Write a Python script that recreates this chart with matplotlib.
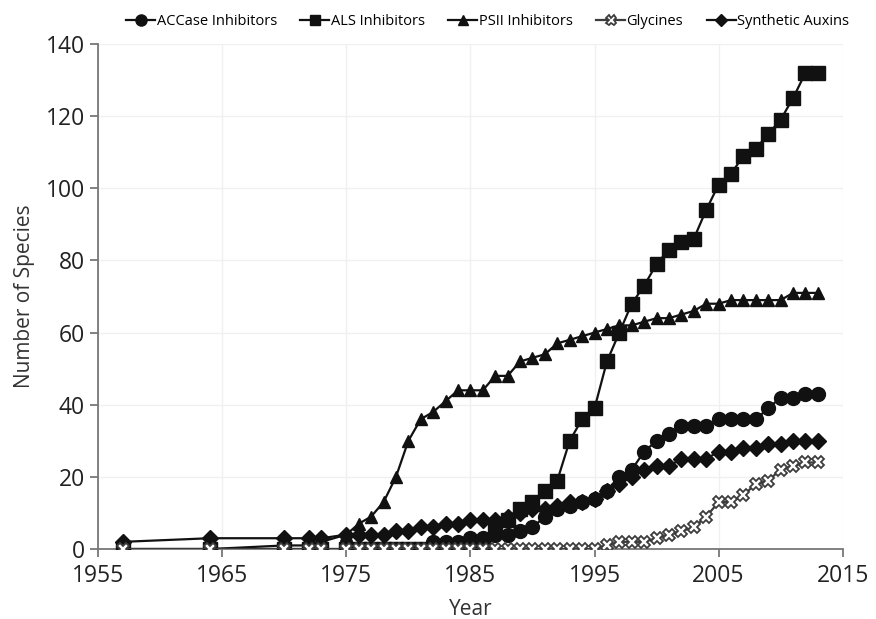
import numpy as np
import matplotlib.pyplot as plt

plt.rcParams['font.family'] = ['Open Sans', 'DejaVu Sans']

# years with reported cases
years = [1957, 1964, 1970, 1972, 1973] + list(range(1975, 2014))

accase = [0, 0, 0, 0, 0,
          0, 0, 0, 0, 0, 0, 0, 2, 2, 2, 3, 3, 4, 4, 5, 6, 9, 11, 12, 13, 14, 16, 20, 22, 27,
          30, 32, 34, 34, 34, 36, 36, 36, 36, 39, 42, 42, 43, 43]
als = [0, 0, 0, 0, 0,
       0, 0, 0, 0, 0, 0, 0, 0, 0, 0, 0, 2, 6, 8, 11, 13, 16, 19, 30, 36, 39, 52, 60, 68, 73,
       79, 83, 85, 86, 94, 101, 104, 109, 111, 115, 119, 125, 132, 132]
psii = [0, 0, 1, 1, 2,
        4, 7, 9, 13, 20, 30, 36, 38, 41, 44, 44, 44, 48, 48, 52, 53, 54, 57, 58, 59, 60, 61, 62, 62, 63,
        64, 64, 65, 66, 68, 68, 69, 69, 69, 69, 69, 71, 71, 71]
glycines = [0, 0, 0, 0, 0,
            0, 0, 0, 0, 0, 0, 0, 0, 0, 0, 0, 0, 0, 0, 0, 0, 0, 0, 0, 0, 0, 1, 2, 2, 2,
            3, 4, 5, 6, 9, 13, 13, 15, 18, 19, 22, 23, 24, 24]
auxins = [2, 3, 3, 3, 3,
          4, 4, 4, 4, 5, 5, 6, 6, 7, 7, 8, 8, 8, 9, 10, 11, 11, 12, 13, 13, 14, 16, 18, 20, 22,
          23, 23, 25, 25, 25, 27, 27, 28, 28, 29, 29, 30, 30, 30]

fig = plt.figure(figsize=(8.76, 6.19), dpi=100)
ax = fig.add_axes([0.112, 0.113, 0.850, 0.816])

k = '#111111'
ax.plot(years, accase, color=k, lw=1.6, marker='o', ms=10, label='ACCase Inhibitors', zorder=4)
ax.plot(years, als, color=k, lw=1.6, marker='s', ms=9.5, label='ALS Inhibitors', zorder=3)
ax.plot(years, psii, color=k, lw=1.6, marker='^', ms=9, label='PSII Inhibitors', zorder=3)
ax.plot(years, glycines, color='#3c3c3c', lw=1.6, marker='X', ms=9, mfc='white', mec='#3c3c3c',
        mew=1.3, label='Glycines', zorder=5)
ax.plot(years, auxins, color=k, lw=1.6, marker='D', ms=8, label='Synthetic Auxins', zorder=4)

ax.set_xlim(1955, 2015)
ax.set_ylim(0, 140)
ax.set_xticks(np.arange(1955, 2016, 10))
ax.set_yticks(np.arange(0, 141, 20))
ax.grid(True, color='#f0f0f0', lw=1)
ax.set_axisbelow(True)
for s in ['top', 'right']:
    ax.spines[s].set_visible(False)
for s in ['left', 'bottom']:
    ax.spines[s].set_color('#777777')
    ax.spines[s].set_linewidth(1.3)
ax.tick_params(axis='both', labelsize=16.5, colors='#777777', labelcolor='#222222', length=6, width=1.3)
ax.tick_params(axis='x', pad=5)

ax.set_xlabel('Year', fontsize=15, color='#333333', labelpad=8)
ax.set_ylabel('Number of Species', fontsize=15, color='#333333', labelpad=8)

ax.legend(loc='center', bbox_to_anchor=(0.523, 1.045), ncol=5, frameon=False, fontsize=10.5,
          handlelength=2.0, handletextpad=0.1, columnspacing=1.6, markerscale=0.8)

fig.savefig('out.png', dpi=100, facecolor='white')
